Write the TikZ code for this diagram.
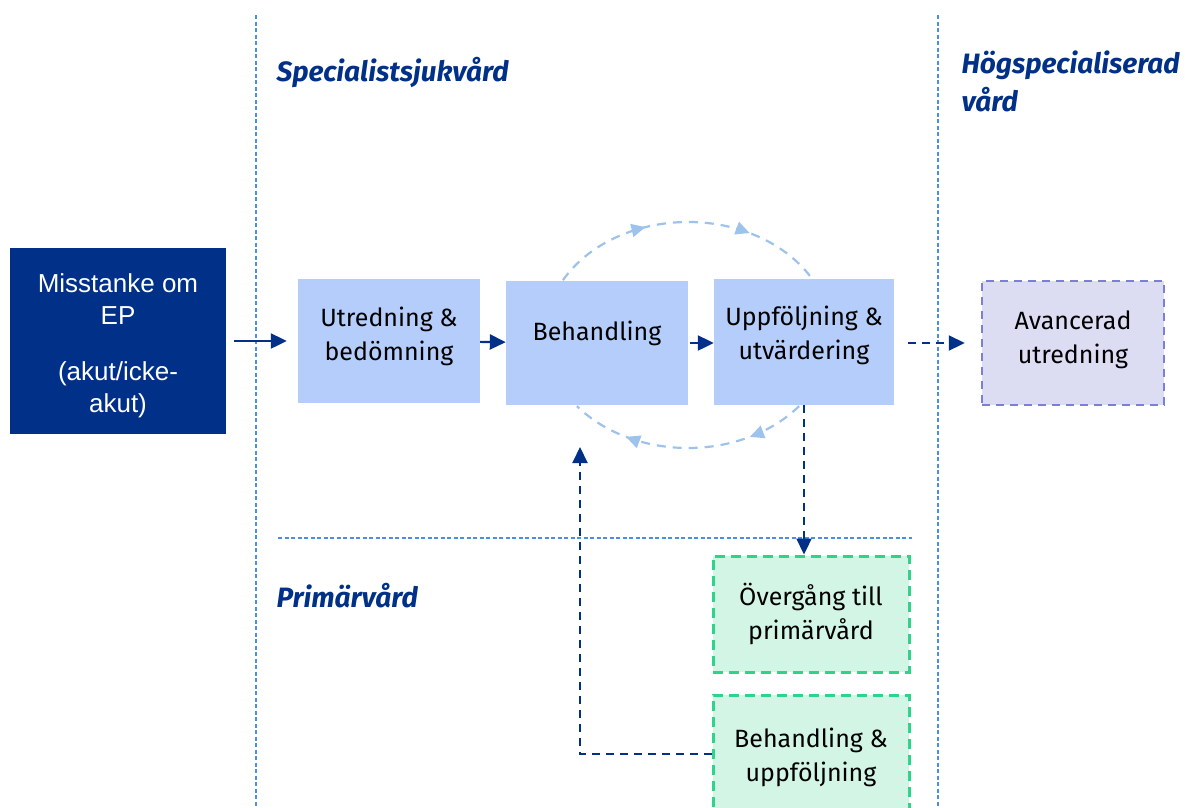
\documentclass[tikz,border=0pt]{standalone}
\usepackage{fontspec}
\setmainfont{Fira Sans}
\newfontfamily\arialfont{Liberation Sans}
\usetikzlibrary{positioning}
\usetikzlibrary{arrows.meta}
\usetikzlibrary{decorations.markings}

\definecolor{navy}{HTML}{003087}
\definecolor{paleblue}{HTML}{B4CDFB}
\definecolor{arcblue}{HTML}{9DC3EC}
\definecolor{sepblue}{HTML}{4A90E2}
\definecolor{mintfill}{HTML}{D2F5E6}
\definecolor{mintline}{HTML}{2ED48A}
\definecolor{lilacfill}{HTML}{DCDDF3}
\definecolor{lilacline}{HTML}{7B80D6}

\begin{document}
\begin{tikzpicture}[x=1pt, y=-1pt,
    stepbox/.style={fill=paleblue, minimum width=182pt, minimum height=124pt, align=center,
        font=\fontsize{25}{34}\selectfont},
    greenbox/.style={fill=mintfill, draw=mintline, line width=3pt, dash pattern=on 10pt off 6pt,
        minimum width=196pt, minimum height=116pt, align=center, font=\fontsize{25}{34}\selectfont},
    heading/.style={anchor=west, text=navy, font=\fontsize{28}{38}\selectfont\bfseries\itshape, align=left},
    flow/.style={navy, line width=2.2pt, -{Triangle[length=16pt, width=15pt]}},
    dashflow/.style={flow, dash pattern=on 8pt off 6pt},
    separator/.style={sepblue, line width=1.6pt, dash pattern=on 4pt off 2.5pt},
    arcline/.style={arcblue, line width=2.2pt, dash pattern=on 9pt off 7pt},
    arcmarks/.style 2 args={decoration={markings,
        mark=at position #1 with {\arrow[arcblue]{Triangle[length=14pt, width=13pt]}},
        mark=at position #2 with {\arrow[arcblue]{Triangle[length=14pt, width=13pt]}}},
        postaction={decorate}}
    ]

\useasboundingbox (0,0) rectangle (1188,807);
\clip (0,0) rectangle (1188,807);

% separators
\draw[separator] (256,15) -- (256,807);
\draw[separator] (938,15) -- (938,807);
\draw[separator] (278,538) -- (912,538);

% headings
\node[heading] (spec) at (273,72) {Specialistsjukvård};
\node[heading] (hogspec) at (958,81) {Högspecialiserad\\vård};
\node[heading] (prim) at (273,596) {Primärvård};

% nodes
\node[fill=navy, text=white, minimum width=216pt, minimum height=186pt, align=center,
    font=\arialfont\fontsize{26}{32}\selectfont] (misstanke) at (118,341)
    {\rule{0pt}{29pt}Misstanke om\\EP\\[24pt](akut/icke-\\akut)};
\node[stepbox, text depth=15pt] (utredning) at (389,341) {Utredning \&\\bedömning};
\node[stepbox, text depth=25pt] (behandling) at (597,343) {Behandling};
\node[stepbox, text depth=19pt, minimum width=180pt, minimum height=126pt] (uppfoljning) at (804,342)
    {Uppföljning \&\\utvärdering};
\node[stepbox, text depth=11pt, fill=lilacfill, draw=lilacline, line width=2.5pt, dash pattern=on 8pt off 6pt]
    (avancerad) at (1073,343) {Avancerad\\utredning};
\node[greenbox] (overgang) at (811,614) {Övergång till\\primärvård};
\node[greenbox, text depth=10pt, minimum height=130pt] (behuppf) at (811,760) {Behandling \&\\uppföljning};

\coordinate (loopin) at (580,447);

% loop round behandling and uppfoljning
\draw[arcline, arcmarks={0.35}{0.72}] ([shift={(209:143 and 113)}]688,335)
    arc[start angle=209, end angle=331, x radius=143, y radius=113];
\draw[arcline, arcmarks={0.24}{0.76}] ([shift={(39:143 and 113)}]688,335)
    arc[start angle=39, end angle=141, x radius=143, y radius=113];

% connectors
\draw[flow, shorten <=8pt, shorten >=11pt] (misstanke) -- (utredning);
\draw[flow] (utredning) -- (behandling);
\draw[flow, shorten <=2pt] (behandling.east) -- (uppfoljning.west |- behandling.east);
\draw[dashflow, shorten <=14pt, shorten >=16pt] (uppfoljning.east |- behandling.east) -- (avancerad.west |- behandling.east);
\draw[dashflow] (uppfoljning.south) -- (uppfoljning.south |- overgang.north);
\draw[dashflow] (behuppf.west |- 0,754) -| (loopin);

\end{tikzpicture}
\end{document}
